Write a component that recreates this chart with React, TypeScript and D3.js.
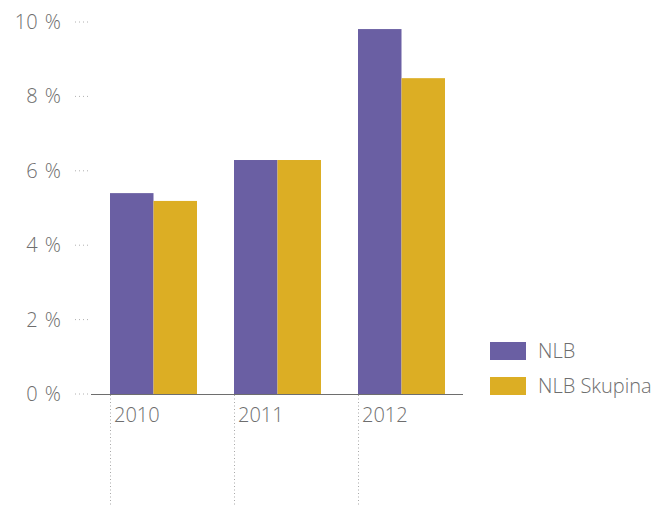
import React from "react";
import * as d3 from "d3";

const years = ["2010", "2011", "2012"];
const seriesNames = ["NLB", "NLB Skupina"];
const nlb = [5.4, 6.29, 9.81];
const nlbSkupina = [5.19, 6.29, 8.49];
const yTicks = [0, 2, 4, 6, 8, 10];
const colors = ["#6a5fa3", "#dcae24"];

export default function App() {
  const W = 667, H = 508;
  const y = d3.scaleLinear().domain([0, 10]).range([394, 22]);
  const x0 = d3.scaleBand<string>().domain(years).range([110, 445]).paddingInner(37 / 124).paddingOuter(0);
  const x1 = d3.scaleBand<string>().domain(seriesNames).range([0, x0.bandwidth()]);
  const values = [nlb, nlbSkupina];
  const font = "'Open Sans', 'Noto Sans', sans-serif";
  const textColor = "#6e6e6e";
  return (
    <svg width={W} height={H} style={{ position: "absolute", left: 0, top: 0 }} fontFamily={font} fontWeight={300}>
      {yTicks.map((t) => (
        <g key={t}>
          <text x={61} y={y(t)} dy="0.35em" textAnchor="end" fontSize={20} fill={textColor} style={{ wordSpacing: "2px" }}>
            {t} %
          </text>
          <line x1={75} x2={88} y1={y(t)} y2={y(t)} stroke="#b0b0b0" strokeWidth={1} strokeDasharray="1,3" />
        </g>
      ))}
      {years.map((yr) => (
        <g key={yr}>
          <line x1={x0(yr)! + 0.5} x2={x0(yr)! + 0.5} y1={395} y2={506} stroke="#a8a8a8" strokeWidth={1} strokeDasharray="1,2.5" />
          <text x={x0(yr)! + 4} y={422} fontSize={20} fill={textColor}>{yr}</text>
        </g>
      ))}
      {years.map((yr, i) =>
        seriesNames.map((s, j) => (
          <rect
            key={yr + s}
            x={x0(yr)! + x1(s)!}
            y={y(values[j][i])}
            width={x1.bandwidth()}
            height={y(0) - y(values[j][i])}
            fill={colors[j]}
          />
        ))
      )}
      <line x1={91} x2={463} y1={394.5} y2={394.5} stroke="#6e6e6e" strokeWidth={1.2} />
      {seriesNames.map((s, j) => (
        <g key={s}>
          <rect x={490} y={342 + j * 35} width={36} height={18} fill={colors[j]} />
          <text x={538} y={351 + j * 35} dy="0.35em" fontSize={20} fill={textColor}>{s}</text>
        </g>
      ))}
    </svg>
  );
}
